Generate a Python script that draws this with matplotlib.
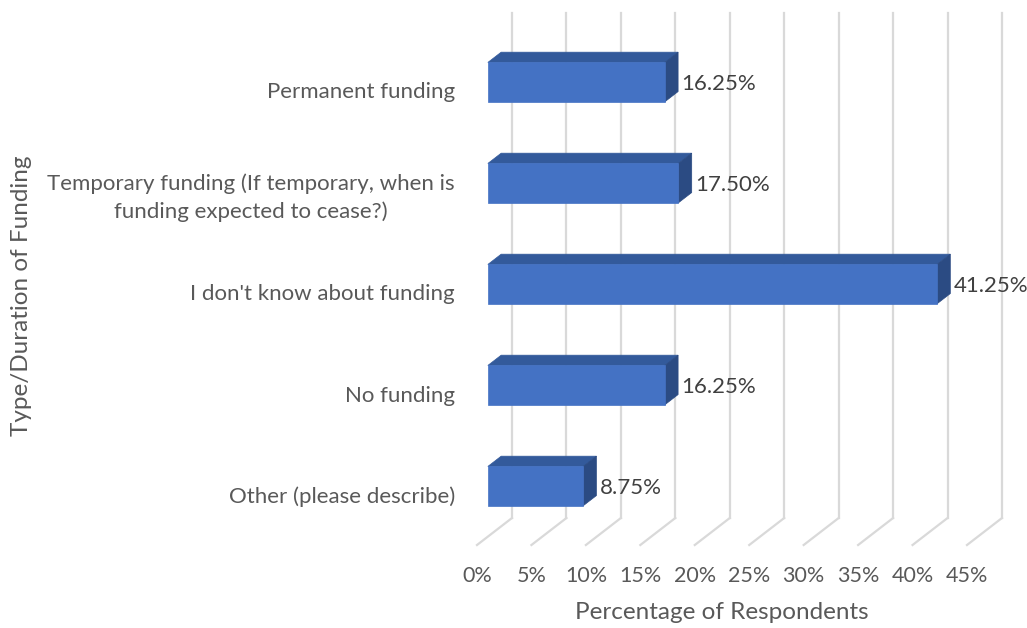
import numpy as np
import matplotlib.pyplot as plt
from matplotlib.patches import Polygon

plt.rcParams["font.family"] = ["Lato", "DejaVu Sans"]

# Survey responses ------------------------------------------------------------
categories = [
    "Other (please describe)",
    "No funding",
    "I don't know about funding",
    "Temporary funding (If temporary, when is\nfunding expected to cease?)",
    "Permanent funding",
]
shares = [8.75, 16.25, 41.25, 17.50, 16.25]
ticks = np.arange(0, 50, 5)
tick_labels = [f"{t}%" for t in ticks]

# 3D look: depth of the plot box in data units, bar slab inside it
DX = 35 / (490 / 45)
DY = 27 / 101
d0, d1 = 0.31, 0.69
h = 0.39

front_col = "#4472C4"
top_col = "#335A9B"
side_col = "#2B4B83"
grid_col = "#D9D9D9"
txt_col = "#595959"

fig = plt.figure(figsize=(10.27, 6.28), dpi=100)
ax = fig.add_axes([477 / 1027, 83 / 628, 490 / 1027, 505 / 628])
ax.set_xlim(0, 45)
ax.set_ylim(-0.5, 4.5)
for s in ax.spines.values():
    s.set_visible(False)

# back wall gridlines and floor diagonals
y_floor = -0.5
y_top = 4.5
for t in ticks:
    ax.plot([t + DX, t + DX], [y_floor + DY, y_top + DY], color=grid_col,
            lw=1.6, clip_on=False, zorder=1)
    ax.plot([t, t + DX], [y_floor, y_floor + DY], color=grid_col,
            lw=1.6, clip_on=False, zorder=1)

# bars: front, top and side faces
for c, v in enumerate(shares):
    lo, hi = c - h / 2, c + h / 2
    front = [(d0 * DX, lo + d0 * DY), (v + d0 * DX, lo + d0 * DY),
             (v + d0 * DX, hi + d0 * DY), (d0 * DX, hi + d0 * DY)]
    top = [(d0 * DX, hi + d0 * DY), (v + d0 * DX, hi + d0 * DY),
           (v + d1 * DX, hi + d1 * DY), (d1 * DX, hi + d1 * DY)]
    side = [(v + d0 * DX, lo + d0 * DY), (v + d1 * DX, lo + d1 * DY),
            (v + d1 * DX, hi + d1 * DY), (v + d0 * DX, hi + d0 * DY)]
    for verts, col in ((top, top_col), (side, side_col), (front, front_col)):
        ax.add_patch(Polygon(verts, closed=True, facecolor=col,
                             edgecolor=col, lw=0.5, zorder=3, clip_on=False))
    ax.text(v + d1 * DX + 0.3, c + d0 * DY - 0.02, f"{v:.2f}%", ha="left",
            va="center", fontsize=16, color="#404040", zorder=4)

ax.set_xticks(ticks, tick_labels)
ax.set_yticks(range(len(categories)), categories)
ax.tick_params(axis="both", length=0, labelsize=16, labelcolor=txt_col)
ax.tick_params(axis="x", labelsize=15.5, pad=15)
ax.tick_params(axis="y", pad=16)
for lab in ax.get_yticklabels():
    lab.set_multialignment("center")
    lab.set_linespacing(1.5)

ax.set_xlabel("Percentage of Respondents", fontsize=17.5, color=txt_col,
              va="center")
ax.xaxis.set_label_coords(0.5, -0.1327)
ax.set_ylabel("Type/Duration of Funding", fontsize=17.5, color=txt_col,
              ha="center", va="center")
ax.yaxis.set_label_coords(-0.9286, 0.493)

fig.savefig("out.png", dpi=100)
